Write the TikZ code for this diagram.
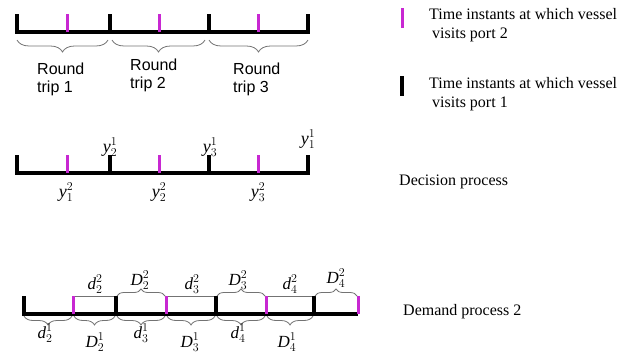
\documentclass[tikz,border=0pt]{standalone}
\usepackage{fontspec}
\setmainfont{Liberation Serif}
\newfontfamily\tripfont{Liberation Sans}
\usetikzlibrary{decorations.pathreplacing}
\definecolor{portmag}{RGB}{200,40,210}
\definecolor{bracegray}{RGB}{115,115,115}
\newcommand\ml[3]{$\mathit{#1}_{#2}^{#3}$}

\begin{document}
\begin{tikzpicture}[x=1pt,y=-1pt,
  axisline/.style={line width=3.1pt,black,line join=miter},
  porttick/.style={line width=3.1pt,black},
  magtick/.style={line width=3pt,portmag},
  bracelow/.style={draw=bracegray,line width=0.8pt,decorate,
    decoration={brace,mirror,amplitude=#1}},
  braceup/.style={draw=bracegray,line width=0.8pt,decorate,
    decoration={brace,amplitude=#1}},
  spanline/.style={draw=bracegray,line width=0.8pt},
  triplabel/.style={anchor=base west,inner sep=0pt,align=left,
    font=\tripfont\fontsize{16}{18}\selectfont},
  yl/.style={anchor=base,inner sep=0pt,font=\fontsize{18}{21}\selectfont},
  dl/.style={anchor=base,inner sep=0pt,font=\fontsize{17}{20}\selectfont},
  legendtext/.style={anchor=base west,inner sep=0pt,align=left,
    font=\fontsize{16}{19}\selectfont},
]
\useasboundingbox (0,0) rectangle (622,354);

% ---------- round trips ----------
\coordinate (ta) at (17,32);  \coordinate (tb) at (110,32);
\coordinate (tc) at (209,32); \coordinate (td) at (308,32);
\coordinate (tm1) at (67,32); \coordinate (tm2) at (159,32);
\coordinate (tm3) at (258,32);
\draw[axisline] ([yshift=18pt]ta) -- (ta) -- (td) -- ([yshift=18pt]td);
\foreach \p in {tb,tc} \draw[porttick] (\p) -- ++(0,-18);
\foreach \p in {tm1,tm2,tm3} \draw[magtick] (\p) -- ++(0,-18);
\draw[bracelow=12pt] (17,40) -- (108,40);
\draw[bracelow=12pt] (112,40) -- (205,40);
\draw[bracelow=12pt] (209,40) -- (308,40);
% node base = baseline of the last line
\node[triplabel] (rt1) at (37,92) {Round\\trip 1};
\node[triplabel] (rt2) at (130,88) {Round\\trip 2};
\node[triplabel] (rt3) at (233,92) {Round\\trip 3};

% ---------- legend ----------
\draw[magtick] (402,8) -- (402,28);
\draw[porttick] (402,76) -- (402,96);
\node[legendtext] (lg2) at (429,38) {Time instants at which vessel\\\hspace{3pt}visits port 2};
\node[legendtext] (lg1) at (429,107) {Time instants at which vessel\\\hspace{3pt}visits port 1};

% ---------- decision process ----------
\coordinate (ya) at (17,173);  \coordinate (yb) at (110,173);
\coordinate (yc) at (209,173); \coordinate (yd) at (308,173);
\coordinate (ym1) at (67,173); \coordinate (ym2) at (159,173);
\coordinate (ym3) at (258,173);
\draw[axisline] ([yshift=18pt]ya) -- (ya) -- (yd) -- ([yshift=18pt]yd);
\foreach \p in {yb,yc} \draw[porttick] (\p) -- ++(0,-18);
\foreach \p in {ym1,ym2,ym3} \draw[magtick] (\p) -- ++(0,-18);
\node[yl] (y21) at (110,152) {\ml{y}{2}{1}};
\node[yl] (y31) at (210,152) {\ml{y}{3}{1}};
\node[yl] (y11) at (308,144) {\ml{y}{1}{1}};
\node[yl] (y12) at (66,197) {\ml{y}{1}{2}};
\node[yl] (y22) at (159,197) {\ml{y}{2}{2}};
\node[yl] (y32) at (258,197) {\ml{y}{3}{2}};
\node[legendtext] (dec) at (399,185) {Decision process};

% ---------- demand process ----------
\coordinate (da) at (24,314);  \coordinate (dm1) at (73,314);
\coordinate (db) at (116,314); \coordinate (dm2) at (166,314);
\coordinate (dc) at (216,314); \coordinate (dm3) at (266,314);
\coordinate (dd) at (314,314); \coordinate (dm4) at (358,314);
% spans between a port-2 visit and the next port-1 visit
\draw[spanline] ([yshift=18pt]dm1) -- ([yshift=18pt]db);
\draw[spanline] ([yshift=18pt]dm2) -- ([yshift=18pt]dc);
\draw[spanline] ([yshift=18pt]dm3) -- ([yshift=18pt]dd);
\draw[axisline] ([yshift=18pt]da) -- (da) -- (dm4);
\foreach \p in {db,dc,dd} \draw[porttick] (\p) -- ++(0,-18);
\foreach \p in {dm1,dm2,dm3,dm4} \draw[magtick] (\p) -- ++(0,-18);
% braces above the line
\draw[braceup=7pt] (117,296) -- (165,296);
\draw[braceup=7pt] (217,296) -- (265,296);
\draw[braceup=7pt] (315,296) -- (357,296);
% braces below the line
\draw[bracelow=9pt] (24,316) -- (72,316);
\draw[bracelow=9pt] (74,316) -- (115,316);
\draw[bracelow=9pt] (117,316) -- (165,316);
\draw[bracelow=9pt] (167,316) -- (215,316);
\draw[bracelow=9pt] (217,316) -- (265,316);
\draw[bracelow=9pt] (267,316) -- (313,316);
\node[dl] (d22) at (95,289) {\ml{d}{2}{2}};
\node[dl] (D22) at (140,285) {\ml{D}{2}{2}};
\node[dl] (d32) at (192,289) {\ml{d}{3}{2}};
\node[dl] (D32) at (238,285) {\ml{D}{3}{2}};
\node[dl] (d42) at (290,289) {\ml{d}{4}{2}};
\node[dl] (D42) at (336,283) {\ml{D}{4}{2}};
\node[dl] (d21) at (45,338) {\ml{d}{2}{1}};
\node[dl] (D21) at (95,347) {\ml{D}{2}{1}};
\node[dl] (d31) at (141,338) {\ml{d}{3}{1}};
\node[dl] (D31) at (190,347) {\ml{D}{3}{1}};
\node[dl] (d41) at (238,338) {\ml{d}{4}{1}};
\node[dl] (D41) at (287,347) {\ml{D}{4}{1}};
\node[legendtext] (dem) at (403,315) {Demand process 2};
\end{tikzpicture}
\end{document}
